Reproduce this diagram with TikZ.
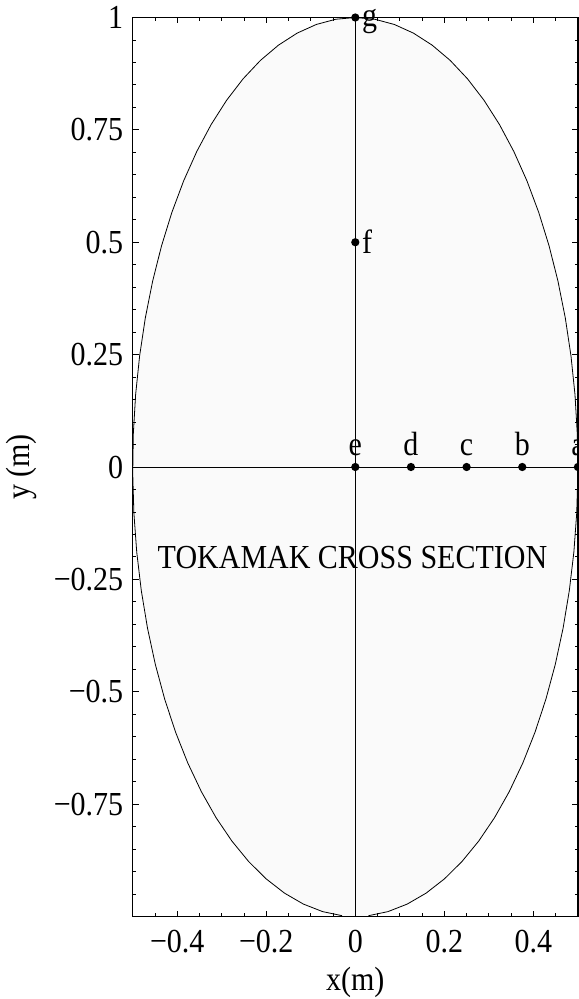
\documentclass[tikz,border=0pt]{standalone}
\usepackage{fontspec}
\setmainfont{Liberation Serif}
\definecolor{ellfill}{gray}{0.98}
\newcommand\lbl[1]{\scalebox{1}[1.12]{#1}}
\tikzset{
  lab/.style={inner sep=0pt, font=\fontsize{22.5}{25}\selectfont},
  pt/.style={circle, fill=black, inner sep=0pt, minimum size=6.2pt},
  frameline/.style={line width=0.9pt},
  axisline/.style={line width=0.6pt},
  curve/.style={line width=0.6pt},
  tickline/.style={line width=0.6pt}
}
\begin{document}
\begin{tikzpicture}[x=0.75pt,y=-0.75pt]
\useasboundingbox (0,0) rectangle (578,999);
\begin{scope}[shift={(266.475pt,-350.25pt)},x=333.9pt,y=337.125pt]
  % ellipse fill and outline
  \fill[ellfill] plot[domain=0:360, samples=73] ({0.5*cos(\x)},{sin(\x)}) -- cycle;
  \draw[curve] plot[domain=273.4:626.6, samples=71] ({0.5*cos(\x)},{sin(\x)});
  % axes
  \coordinate (xleft) at (-0.5,0);
  \coordinate (xright) at (0.5,0);
  \coordinate (ybot) at (0,-1);
  \coordinate (ytop) at (0,1);
  \draw[axisline] (xleft) -- (xright);
  \draw[axisline] (ybot) -- (ytop);
  % frame
  \draw[frameline] (-0.5,-1) rectangle (0.5,1);
  % minor ticks
  \foreach \i in {0,...,40}{
    \pgfmathsetmacro\yy{-1+0.05*\i}
    \draw[tickline] (-0.5,\yy) -- ++(2.4pt,0);
    \draw[tickline] (0.5,\yy) -- ++(-2.4pt,0);
  }
  \foreach \i in {0,...,20}{
    \pgfmathsetmacro\xx{-0.5+0.05*\i}
    \draw[tickline] (\xx,-1) -- ++(0,2.4pt);
    \draw[tickline] (\xx,1) -- ++(0,-2.4pt);
  }
  % major ticks
  \foreach \v in {-0.75,-0.5,-0.25,0,0.25,0.5,0.75}{
    \draw[tickline] (-0.5,\v) -- ++(4.5pt,0);
    \draw[tickline] (0.5,\v) -- ++(-4.5pt,0);
  }
  \foreach \v in {-0.4,-0.2,0,0.2,0.4}{
    \draw[tickline] (\v,-1) -- ++(0,4.5pt);
    \draw[tickline] (\v,1) -- ++(0,-4.5pt);
  }
  % tick labels
  \foreach \v/\t [count=\k] in {1/1,0.75/0.75,0.5/0.5,0.25/0.25,0/0,-0.25/−0.25,-0.5/−0.5,-0.75/−0.75}
    \node[lab,anchor=east] (ytl\k) at (-0.5207,\v) {\lbl{\t}};
  \foreach \v/\t [count=\k] in {-0.4/−0.4,-0.2/−0.2,0/0,0.2/0.2,0.4/0.4}
    \node[lab,anchor=base] (xtl\k) at (\v,-1.081) {\lbl{\t}};
  % axis titles
  \node[lab,anchor=base] (xtitle) at (0,-1.1635) {\lbl{x(m)}};
  \node[lab,anchor=base,rotate=90] (ytitle) at (-0.7307,0) {\lbl{y (m)}};
  % points
  \node[pt] (a) at (0.5,0) {};
  \node[pt] (b) at (0.375,0) {};
  \node[pt] (c) at (0.25,0) {};
  \node[pt] (d) at (0.125,0) {};
  \node[pt] (e) at (0,0) {};
  \node[pt] (f) at (0,0.5) {};
  \node[pt] (g) at (0,1) {};
  % point labels
  \node[lab,anchor=base] (la) at (0.5,0.0267) {\lbl{a}};
  \node[lab,anchor=base] (lb) at (0.375,0.0267) {\lbl{b}};
  \node[lab,anchor=base] (lc) at (0.25,0.0267) {\lbl{c}};
  \node[lab,anchor=base] (ld) at (0.125,0.0267) {\lbl{d}};
  \node[lab,anchor=base] (le) at (0,0.0267) {\lbl{e}};
  \node[lab,anchor=base west] (lf) at (0.015,0.476) {\lbl{f}};
  \node[lab,anchor=base west] (lg) at (0.015,0.979) {\lbl{g}};
  % title inside
  \node[lab,anchor=base] (title) at (-0.0063,-0.2247) {\lbl{TOKAMAK CROSS SECTION}};
\end{scope}
\end{tikzpicture}
\end{document}
